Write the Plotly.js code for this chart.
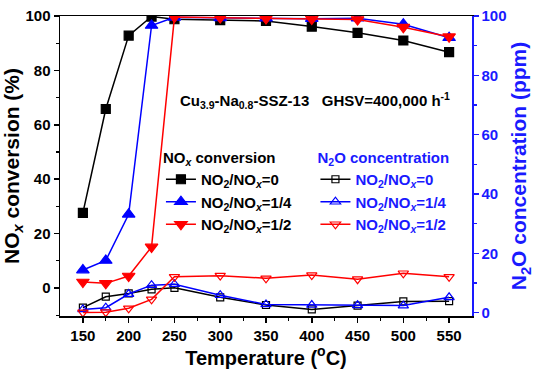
<!DOCTYPE html>
<html><head><meta charset="utf-8">
<script src="https://cdn.plot.ly/plotly-3.0.1.min.js"></script>
<style>html,body{margin:0;padding:0;background:#fff}#c{width:537px;height:372px}</style>
</head><body><div id="c"></div>
<script>
const temps = [150,175,200,225,250,300,350,400,450,500,550];
const noxConv0   = [27.6,65.8,92.8,99.8,98.8,98.5,98.2,96.1,93.8,91.0,86.7];
const noxConv14  = [6.6,10.1,27.1,96.5,99.5,99.3,99.2,99.0,99.2,97.0,92.0];
const noxConv12  = [2.2,1.7,4.4,15.1,99.6,99.4,99.1,98.9,98.7,95.9,92.4];
const n2o0  = [1.7,5.4,6.5,7.9,8.4,5.2,2.6,1.1,2.4,3.8,3.9];
const n2o14 = [1.1,1.7,6.3,9.3,9.6,5.9,2.8,2.6,2.5,2.4,5.2];
const n2o12 = [0.1,0.2,1.5,4.5,12.1,12.5,11.6,12.7,11.3,13.3,12.1];
const seriesNames = ['NO<sub>2</sub>/NO<sub><i>x</i></sub>=0','NO<sub>2</sub>/NO<sub><i>x</i></sub>=1/4','NO<sub>2</sub>/NO<sub><i>x</i></sub>=1/2'];

const BLUE = '#1a1aff';
const FONT = 'Liberation Sans, Arial, sans-serif';
function tr(y, name, color, sym, size, axis, leg){
  return {x: temps, y: y, name: name, type:'scatter', mode:'lines+markers',
    yaxis: axis, legend: leg,
    line:{color: color, width:1.5},
    marker:{symbol: sym, size: size, color: color, line:{color: color, width:1.2}}};
}
const data = [
  tr(noxConv0, seriesNames[0], 'black', 'square', 9, 'y', 'legend'),
  tr(noxConv14, seriesNames[1], 'blue', 'triangle-up', 11, 'y', 'legend'),
  tr(noxConv12, seriesNames[2], 'red', 'triangle-down', 11, 'y', 'legend'),
  tr(n2o0, seriesNames[0], 'black', 'square-open', 7, 'y2', 'legend2'),
  tr(n2o14, seriesNames[1], 'blue', 'triangle-up-open', 9, 'y2', 'legend2'),
  tr(n2o12, seriesNames[2], 'red', 'triangle-down-open', 9, 'y2', 'legend2')
];
const layout = {
  width:537, height:372,
  margin:{l:60, r:65, t:16, b:56},
  paper_bgcolor:'#fff', plot_bgcolor:'#fff',
  font:{family: FONT, size:15, color:'black', weight:'bold'},
  showlegend:true,
  xaxis:{range:[125,575], tickvals:[150,200,250,300,350,400,450,500,550],
    showline:true, linecolor:'black', linewidth:1.5, mirror:true,
    ticks:'outside', ticklen:5, tickwidth:1.5, tickcolor:'black',
    minor:{tickvals:[175,225,275,325,375,425,475,525], ticks:'outside', ticklen:3, tickwidth:1.2, tickcolor:'black'},
    showgrid:false, zeroline:false,
    tickfont:{size:15, family:FONT, weight:'bold'},
    title:{text:'Temperature (<sup>o</sup>C)', font:{size:20, family:FONT, weight:'bold'}, standoff:6}},
  yaxis:{range:[-10.3,100], tickvals:[0,20,40,60,80,100],
    showline:true, linecolor:'black', linewidth:1.5,
    ticks:'outside', ticklen:5, tickwidth:1.5, tickcolor:'black',
    minor:{tickvals:[-10,10,30,50,70,90], ticks:'outside', ticklen:3, tickwidth:1.2, tickcolor:'black'},
    showgrid:false, zeroline:false,
    tickfont:{size:15, family:FONT, weight:'bold'},
    title:{text:'NO<sub><i>x</i></sub> conversion (%)', font:{size:21, family:FONT, weight:'bold'}, standoff:4}},
  yaxis2:{range:[-1.1,100], overlaying:'y', side:'right', tickvals:[0,20,40,60,80,100],
    showline:true, linecolor:BLUE, linewidth:1.5,
    ticks:'outside', ticklen:5, tickwidth:1.5, tickcolor:BLUE,
    minor:{tickvals:[10,30,50,70,90], ticks:'outside', ticklen:3, tickwidth:1.2, tickcolor:BLUE},
    showgrid:false, zeroline:false,
    tickfont:{size:15, family:FONT, weight:'bold', color:BLUE},
    title:{text:'N<sub>2</sub>O concentration (ppm)', font:{size:21, family:FONT, weight:'bold', color:BLUE}, standoff:6}},
  legend:{x:0.245, y:0.575, xanchor:'left', yanchor:'top', bgcolor:'rgba(0,0,0,0)',
    font:{size:15, family:FONT, weight:'bold', color:'black'},
    title:{text:'NO<sub><i>x</i></sub> conversion', font:{size:15, family:FONT, weight:'bold', color:'black'}},
    itemwidth:30, tracegroupgap:0},
  legend2:{x:0.62, y:0.575, xanchor:'left', yanchor:'top', bgcolor:'rgba(0,0,0,0)',
    font:{size:15, family:FONT, weight:'bold', color:BLUE},
    title:{text:'N<sub>2</sub>O concentration', font:{size:15, family:FONT, weight:'bold', color:BLUE}},
    itemwidth:30, tracegroupgap:0},
  annotations:[{xref:'paper', yref:'paper', x:0.62, y:0.72, xanchor:'center', yanchor:'middle', showarrow:false,
    text:'Cu<sub>3.9</sub>-Na<sub>0.8</sub>-SSZ-13\u00a0\u00a0\u00a0GHSV=400,000 h<sup>-1</sup>',
    font:{size:15, family:FONT, weight:'bold', color:'black'}}]
};
Plotly.newPlot('c', data, layout, {displayModeBar:false, staticPlot:true});
</script></body></html>
